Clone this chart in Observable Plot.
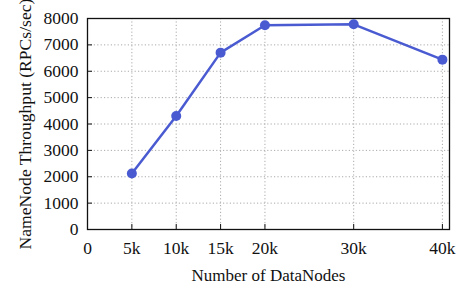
<!DOCTYPE html>
<html>
<head>
<meta charset="utf-8">
<script src="https://cdn.jsdelivr.net/npm/d3@7"></script>
<script src="https://cdn.jsdelivr.net/npm/@observablehq/plot@0.6"></script>
<style>
  html, body { margin: 0; padding: 0; background: #fff; }
  svg, svg g, svg text { font-family: "Liberation Serif", "Times New Roman", serif !important; font-variant: normal !important; }
  g[aria-label="x-axis tick label"], g[aria-label="y-axis tick label"],
  g[aria-label="x-axis tick label"] text, g[aria-label="y-axis tick label"] text { font-size: 17.5px !important; }
  g[aria-label="x-axis label"], g[aria-label="x-axis label"] text { font-size: 17px !important; }
  g[aria-label="y-axis label"], g[aria-label="y-axis label"] text { font-size: 17.6px !important; }
</style>
</head>
<body>
<div id="chart"></div>
<script>
const dataNodes = [5000, 10000, 15000, 20000, 30000, 40000];
const throughput = [2120, 4300, 6705, 7745, 7780, 6440];
const xTicks = [0, 5000, 10000, 15000, 20000, 30000, 40000];
const xTickLabels = ["0", "5k", "10k", "15k", "20k", "30k", "40k"];
const yTicks = [0, 1000, 2000, 3000, 4000, 5000, 6000, 7000, 8000];

const data = dataNodes.map((n, i) => ({n, t: throughput[i]}));
const W = 456, H = 286, mL = 87, mR = 7, mT = 18, mB = 57;
const plotW = W - mL - mR, plotH = H - mT - mB;
const blue = "#4a5bd2";

const chart = Plot.plot({
  width: W, height: H,
  marginLeft: mL, marginRight: mR, marginTop: mT, marginBottom: mB,
  style: {fontFamily: "Liberation Serif", fontSize: "17px", color: "#111", background: "#fff"},
  x: {domain: [0, 40800]},
  y: {domain: [0, 8000]},
  marks: [
    Plot.gridX(xTicks.slice(1), {stroke: "#aaa", strokeOpacity: 1, strokeDasharray: "1.2,2.2"}),
    Plot.gridY(yTicks.slice(1, -1), {stroke: "#aaa", strokeOpacity: 1, strokeDasharray: "1.2,2.2"}),
    Plot.tickX(xTicks.slice(1), {x: d => d, insetTop: plotH - 5, stroke: "#111"}),
    Plot.tickY(yTicks.slice(1), {y: d => d, insetRight: plotW - 5, stroke: "#111"}),
    Plot.frame({stroke: "#111", strokeWidth: 1.3}),
    Plot.axisX(xTicks, {
      tickSize: 0, tickPadding: 12.5,
      tickFormat: d => xTickLabels[xTicks.indexOf(d)],
      label: "Number of DataNodes", labelAnchor: "center", labelOffset: 51, labelArrow: "none"
    }),
    Plot.axisY(yTicks, {
      tickSize: 0, tickPadding: 9,
      tickFormat: d => String(d),
      label: "NameNode Throughput (RPCs/sec)", labelAnchor: "center", labelOffset: 69, labelArrow: "none"
    }),
    Plot.line(data, {x: "n", y: "t", stroke: blue, strokeWidth: 2.5}),
    Plot.dot(data, {x: "n", y: "t", r: 5, fill: blue, stroke: "none"})
  ]
});
document.getElementById("chart").appendChild(chart);
</script>
</body>
</html>
